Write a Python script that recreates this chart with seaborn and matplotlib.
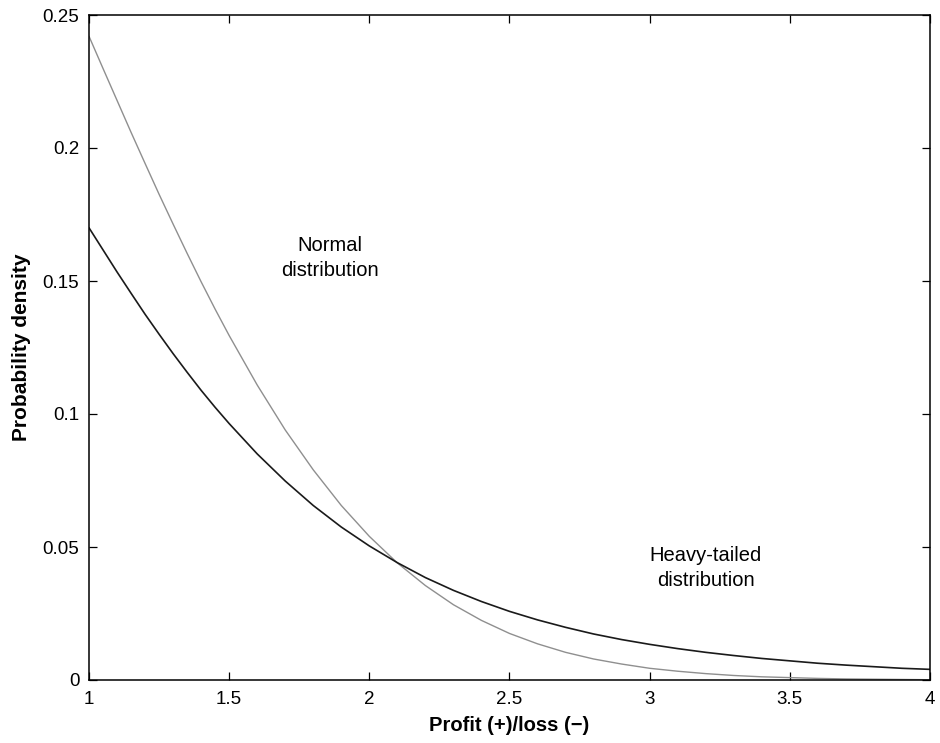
import matplotlib
matplotlib.use("Agg")
import matplotlib.pyplot as plt
import seaborn as sns
import pandas as pd

# x positions (profit/loss)
x_vals = [1.0, 1.05, 1.1, 1.15, 1.2, 1.25, 1.3, 1.35, 1.4, 1.45, 1.5, 1.6, 1.7, 1.8, 1.9, 2.0,
          2.1, 2.2, 2.3, 2.4, 2.5, 2.6, 2.7, 2.8, 2.9, 3.0,
          3.1, 3.2, 3.3, 3.4, 3.5, 3.6, 3.7, 3.8, 3.9, 4.0]

# Normal distribution density (grey curve)
normal_vals = [0.2420, 0.2299, 0.2179, 0.2059, 0.1942, 0.1826, 0.1714, 0.1604, 0.1497, 0.1394,
               0.1295, 0.1109, 0.0940,
               0.0790, 0.0656, 0.0540, 0.0440, 0.0355, 0.0283, 0.0224, 0.0175,
               0.0136, 0.0104, 0.0079, 0.0060, 0.0044, 0.0033, 0.0024, 0.0017,
               0.0012, 0.0009, 0.0006, 0.0004, 0.0003, 0.0002, 0.0001]

# Heavy-tailed distribution density (black curve)
heavy_vals = [0.1700, 0.1617, 0.1534, 0.1454, 0.1375, 0.1300, 0.1227, 0.1157, 0.1089, 0.1025,
              0.0964, 0.0850, 0.0748,
              0.0656, 0.0575, 0.0504, 0.0441, 0.0385, 0.0337, 0.0295, 0.0258,
              0.0226, 0.0198, 0.0173, 0.0152, 0.0134, 0.0118, 0.0104, 0.0092,
              0.0081, 0.0072, 0.0063, 0.0056, 0.0050, 0.0044, 0.0040]

x_ticks = [1, 1.5, 2, 2.5, 3, 3.5, 4]
x_tick_labels = ["1", "1.5", "2", "2.5", "3", "3.5", "4"]
y_ticks = [0, 0.05, 0.1, 0.15, 0.2, 0.25]
y_tick_labels = ["0", "0.05", "0.1", "0.15", "0.2", "0.25"]

sns.set_theme(style="white")
plt.rcParams["font.family"] = ["Liberation Sans", "DejaVu Sans"]

df = pd.DataFrame({"x": x_vals, "normal": normal_vals, "heavy": heavy_vals})

fig = plt.figure(figsize=(9.4, 7.43), dpi=100)
ax = fig.add_axes([89 / 940, 1 - 680 / 743, (930 - 89) / 940, (680 - 15) / 743])

sns.lineplot(data=df, x="x", y="normal", ax=ax, color="#8f8f8f", linewidth=1.0)
sns.lineplot(data=df, x="x", y="heavy", ax=ax, color="#1a1a1a", linewidth=1.2)

ax.set_xlim(1, 4)
ax.set_ylim(0, 0.25)
ax.set_xticks(x_ticks)
ax.set_xticklabels(x_tick_labels)
ax.set_yticks(y_ticks)
ax.set_yticklabels(y_tick_labels)

ax.tick_params(axis="both", which="major", direction="in", length=6, width=0.9,
               color="black", labelsize=13.5, labelcolor="black",
               top=True, right=True, bottom=True, left=True)
ax.tick_params(axis="x", pad=8)
ax.tick_params(axis="y", pad=7)

for sp in ax.spines.values():
    sp.set_visible(True)
    sp.set_color("black")
    sp.set_linewidth(1.1)

ax.set_xlabel("Profit (+)/loss (\u2212)", fontsize=14.5, fontweight="bold", color="black", labelpad=6)
ax.set_ylabel("Probability density", fontsize=15, fontweight="bold", color="black", labelpad=8)

ax.text(1.86, 0.1585, "Normal\ndistribution", ha="center", va="center",
        fontsize=14.5, color="black", linespacing=1.4)
ax.text(3.2, 0.0421, "Heavy-tailed\ndistribution", ha="center", va="center",
        fontsize=14.5, color="black", linespacing=1.4)

ax.grid(False)
fig.savefig("out.png", dpi=100, facecolor="white")
